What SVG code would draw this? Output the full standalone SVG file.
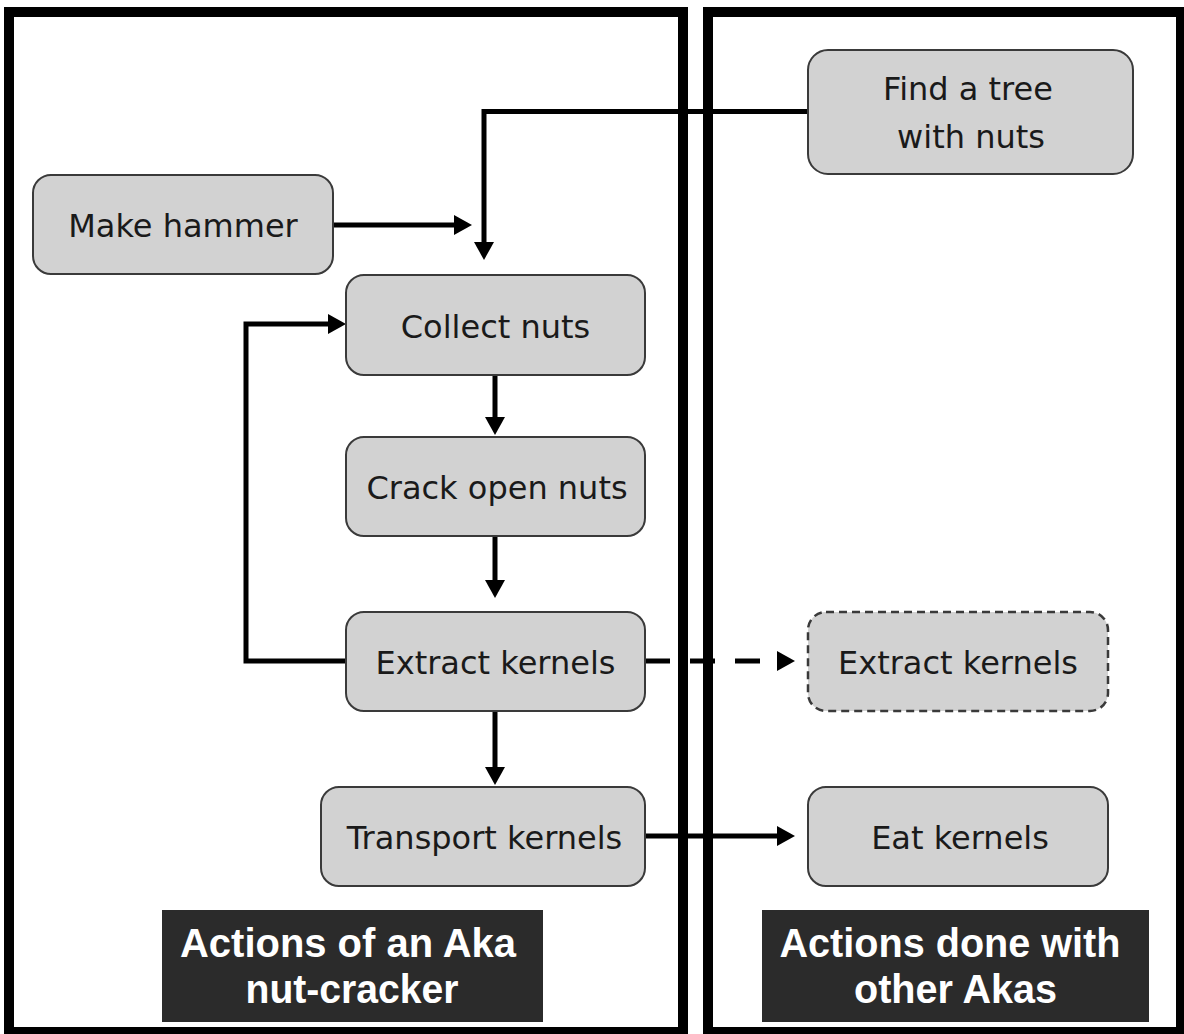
<svg xmlns="http://www.w3.org/2000/svg" width="1184" height="1034" viewBox="0 0 1184 1034">
  <style>
    .panel { fill: #ffffff; stroke: #000000; stroke-width: 10; }
    .node { fill: #d2d2d2; stroke: #3a3a3a; stroke-width: 2; }
    .node-dashed { fill: #d2d2d2; stroke: #3a3a3a; stroke-width: 2.5; stroke-dasharray: 8 5; }
    .label { font-family: "DejaVu Sans", "Liberation Sans", sans-serif; font-size: 32px; fill: #1a1a1a; text-anchor: middle; }
    .caption-box { fill: #2b2b2b; }
    .caption { font-family: "Liberation Sans", Arial, sans-serif; font-weight: bold; font-size: 40px; fill: #ffffff; text-anchor: middle; }
    .link { fill: none; stroke: #000000; stroke-width: 5; }
    .link-dashed { fill: none; stroke: #000000; stroke-width: 5; stroke-dasharray: 25 20; }
  </style>
  <defs>
    <marker id="arrow" markerUnits="userSpaceOnUse" markerWidth="18" markerHeight="20" refX="8" refY="10" orient="auto" overflow="visible">
      <path d="M0,0 L18,10 L0,20 Z" fill="#000000"/>
    </marker>
    <marker id="arrow-gap" markerUnits="userSpaceOnUse" markerWidth="18" markerHeight="20" refX="-12" refY="10" orient="auto" overflow="visible">
      <path d="M0,0 L18,10 L0,20 Z" fill="#000000"/>
    </marker>
  </defs>

  <rect width="1184" height="1034" fill="#ffffff"/>

  <!-- swimlane panels -->
  <g id="panels">
    <rect id="panel-left" class="panel" x="9" y="12" width="674" height="1020"/>
    <rect id="panel-right" class="panel" x="708" y="12" width="473" height="1020"/>
  </g>

  <!-- connectors -->
  <g id="connectors">
    <path class="link" d="M808,111.5 H484 V250" marker-end="url(#arrow)"/>
    <path class="link" d="M333,225 H462" marker-end="url(#arrow)"/>
    <path class="link" d="M495,375 V425" marker-end="url(#arrow)"/>
    <path class="link" d="M495,536 V588" marker-end="url(#arrow)"/>
    <path class="link" d="M495,711 V775" marker-end="url(#arrow)"/>
    <path class="link" d="M346,661 H246 V324 H336" marker-end="url(#arrow)"/>
    <path class="link-dashed" d="M645,661 H765" marker-end="url(#arrow-gap)"/>
    <path class="link" d="M645,836 H785" marker-end="url(#arrow)"/>
  </g>

  <!-- nodes -->
  <g id="node-find-tree">
    <rect class="node" x="808" y="50" width="325" height="124" rx="20"/>
    <text class="label" x="968" y="100">Find a tree</text>
    <text class="label" x="971" y="148">with nuts</text>
  </g>
  <g id="node-make-hammer">
    <rect class="node" x="33" y="175" width="300" height="99" rx="18"/>
    <text class="label" x="183" y="237">Make hammer</text>
  </g>
  <g id="node-collect-nuts">
    <rect class="node" x="346" y="275" width="299" height="100" rx="18"/>
    <text class="label" x="495.5" y="338">Collect nuts</text>
  </g>
  <g id="node-crack-open">
    <rect class="node" x="346" y="437" width="299" height="99" rx="18"/>
    <text class="label" x="497" y="499">Crack open nuts</text>
  </g>
  <g id="node-extract">
    <rect class="node" x="346" y="612" width="299" height="99" rx="18"/>
    <text class="label" x="495.5" y="674">Extract kernels</text>
  </g>
  <g id="node-transport">
    <rect class="node" x="321" y="787" width="324" height="99" rx="18"/>
    <text class="label" x="484.5" y="849">Transport kernels</text>
  </g>
  <g id="node-extract-shared">
    <rect class="node-dashed" x="808" y="612" width="300" height="99" rx="18"/>
    <text class="label" x="958" y="674">Extract kernels</text>
  </g>
  <g id="node-eat">
    <rect class="node" x="808" y="787" width="300" height="99" rx="18"/>
    <text class="label" x="960" y="849">Eat kernels</text>
  </g>

  <!-- lane captions -->
  <g id="caption-left">
    <rect class="caption-box" x="162" y="910" width="381" height="112"/>
    <text class="caption" x="348" y="957" textLength="336" lengthAdjust="spacingAndGlyphs">Actions of an Aka</text>
    <text class="caption" x="352" y="1003" textLength="213" lengthAdjust="spacingAndGlyphs">nut-cracker</text>
  </g>
  <g id="caption-right">
    <rect class="caption-box" x="762" y="910" width="387" height="112"/>
    <text class="caption" x="950" y="957" textLength="341" lengthAdjust="spacingAndGlyphs">Actions done with</text>
    <text class="caption" x="955.5" y="1003" textLength="203" lengthAdjust="spacingAndGlyphs">other Akas</text>
  </g>
</svg>
